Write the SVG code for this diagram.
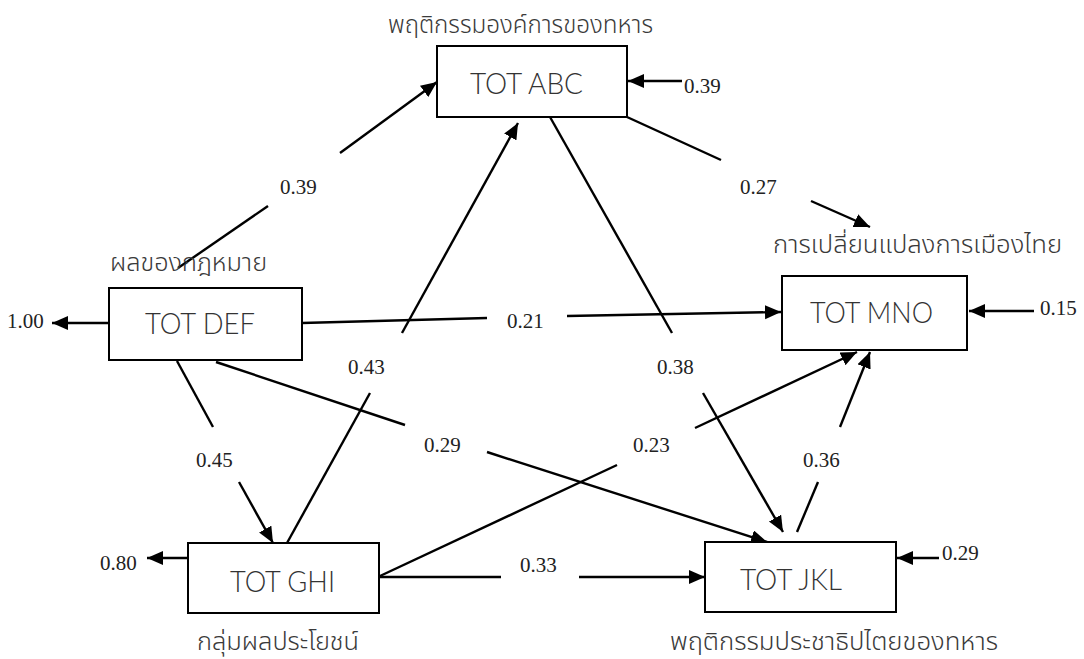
<svg xmlns="http://www.w3.org/2000/svg" width="1084" height="659" viewBox="0 0 1084 659">
<defs>
<marker id="ah" markerUnits="userSpaceOnUse" markerWidth="17" markerHeight="15" refX="16" refY="7" orient="auto">
<path d="M0,0 L16,7 L0,14 z" fill="#000"/>
</marker>
<style>
.box{fill:#fff;stroke:#000;stroke-width:2}
.nt{font-family:"Lato","Open Sans","Liberation Sans",sans-serif;font-weight:300;font-size:30px;fill:#333}
.th{font-family:"Noto Sans Thai","Noto Sans","Tahoma","DejaVu Sans",sans-serif;font-weight:300;font-size:24px;fill:#3a3a3a}
.num{font-family:"Liberation Serif","Times New Roman",serif;font-size:21px;fill:#222}
.c{stroke:#000;stroke-width:2.4;fill:none}
.a{marker-end:url(#ah)}
</style>
</defs>
<rect width="1084" height="659" fill="#fff"/>
<g id="connectors">
<line class="c" x1="178" y1="268" x2="268" y2="206"/>
<line class="c a" x1="340" y1="153" x2="437" y2="82"/>
<text class="num" x="280" y="194">0.39</text>
<line class="c" x1="627" y1="117" x2="721" y2="160"/>
<line class="c a" x1="811" y1="201" x2="870" y2="227"/>
<text class="num" x="740" y="194">0.27</text>
<line class="c" x1="302" y1="323" x2="487" y2="318"/>
<line class="c a" x1="567" y1="316" x2="781" y2="312"/>
<text class="num" x="507" y="328">0.21</text>
<line class="c" x1="287" y1="543" x2="370" y2="393"/>
<line class="c a" x1="402" y1="333" x2="518" y2="123"/>
<text class="num" x="348" y="374">0.43</text>
<line class="c" x1="550" y1="117" x2="672" y2="333"/>
<line class="c a" x1="703" y1="393" x2="783" y2="532"/>
<text class="num" x="657" y="374">0.38</text>
<line class="c" x1="177" y1="361" x2="213" y2="427"/>
<line class="c a" x1="239" y1="482" x2="273" y2="543"/>
<text class="num" x="196" y="467">0.45</text>
<line class="c" x1="216" y1="362" x2="405" y2="425"/>
<line class="c a" x1="487" y1="452" x2="767" y2="542"/>
<text class="num" x="424" y="452">0.29</text>
<line class="c" x1="380" y1="576" x2="617" y2="465"/>
<line class="c a" x1="695" y1="428" x2="857" y2="352"/>
<text class="num" x="633" y="452">0.23</text>
<line class="c" x1="380" y1="577" x2="501" y2="577"/>
<line class="c a" x1="579" y1="577" x2="705" y2="577"/>
<text class="num" x="520" y="572">0.33</text>
<line class="c" x1="797" y1="532" x2="818" y2="482"/>
<line class="c a" x1="840" y1="427" x2="870" y2="352"/>
<text class="num" x="803" y="467">0.36</text>
<line class="c a" x1="682" y1="81" x2="628" y2="81"/>
<text class="num" x="684" y="93">0.39</text>
<line class="c a" x1="1034" y1="311" x2="969" y2="311"/>
<text class="num" x="1040" y="315">0.15</text>
<line class="c a" x1="939" y1="558" x2="897" y2="558"/>
<text class="num" x="942" y="560">0.29</text>
<line class="c a" x1="109" y1="323" x2="52" y2="323"/>
<text class="num" x="7" y="328">1.00</text>
<line class="c a" x1="188" y1="558" x2="147" y2="558"/>
<text class="num" x="100" y="570">0.80</text>
</g>
<g id="node-abc">
<rect class="box" x="437" y="46" width="190" height="71"/>
<text class="nt" x="470" y="94" textLength="113" lengthAdjust="spacingAndGlyphs">TOT ABC</text>
<text class="th" x="388" y="33" textLength="265" lengthAdjust="spacingAndGlyphs">พฤติกรรมองค์การของทหาร</text>
</g>
<g id="node-def">
<rect class="box" x="109" y="288" width="193" height="72"/>
<text class="nt" x="145" y="334" textLength="110" lengthAdjust="spacingAndGlyphs">TOT DEF</text>
<text class="th" x="110" y="271" textLength="157" lengthAdjust="spacingAndGlyphs">ผลของกฎหมาย</text>
</g>
<g id="node-mno">
<rect class="box" x="782" y="276" width="185" height="74"/>
<text class="nt" x="810" y="323" textLength="123" lengthAdjust="spacingAndGlyphs">TOT MNO</text>
<text class="th" x="773" y="253" textLength="289" lengthAdjust="spacingAndGlyphs">การเปลี่ยนแปลงการเมืองไทย</text>
</g>
<g id="node-ghi">
<rect class="box" x="188" y="543" width="191" height="70"/>
<text class="nt" x="230" y="592" textLength="105" lengthAdjust="spacingAndGlyphs">TOT GHI</text>
<text class="th" x="197" y="650" textLength="162" lengthAdjust="spacingAndGlyphs">กลุ่มผลประโยชน์</text>
</g>
<g id="node-jkl">
<rect class="box" x="705" y="542" width="191" height="70"/>
<text class="nt" x="740" y="590" textLength="102" lengthAdjust="spacingAndGlyphs">TOT JKL</text>
<text class="th" x="670" y="650" textLength="328" lengthAdjust="spacingAndGlyphs">พฤติกรรมประชาธิปไตยของทหาร</text>
</g>
</svg>
